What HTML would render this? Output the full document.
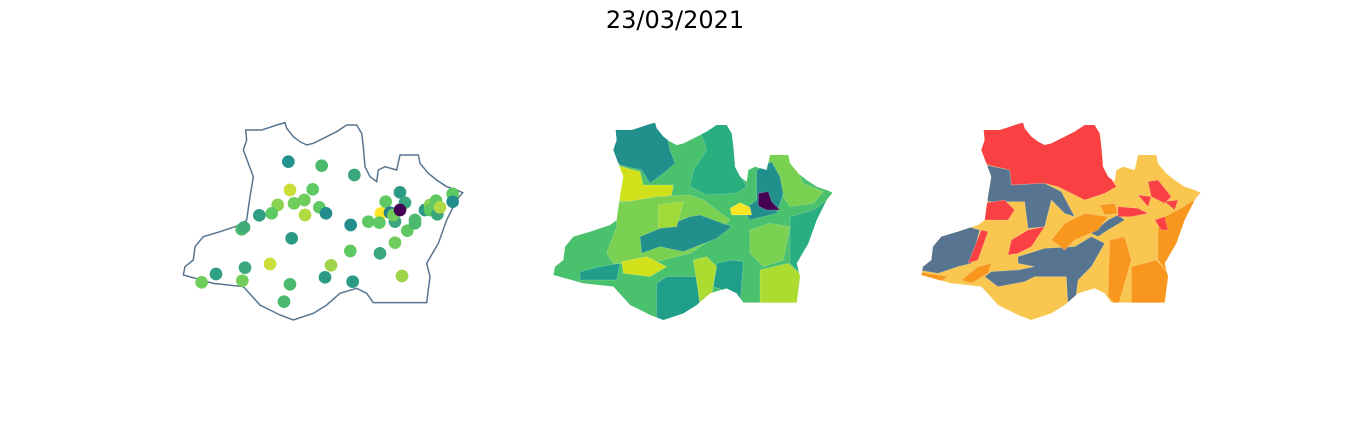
<!DOCTYPE html>
<html><head><meta charset="utf-8">
<style>
html,body{margin:0;padding:0;background:#fff;}
body{width:1350px;height:444px;overflow:hidden;}
svg{display:block;}
</style></head>
<body>
<svg id="fig" width="1350" height="444" viewBox="0 0 1350 444" xmlns="http://www.w3.org/2000/svg">
<text x="675" y="28" text-anchor="middle" font-family="DejaVu Sans, Liberation Sans, sans-serif" font-size="24" fill="#000">23/03/2021</text>
<defs>
<clipPath id="clipState"><polygon id="outlineShape" points="197,30 245,30 270,22 290,15 315,8 320,25 340,50 360,65 380,75 400,70 430,55 470,35 500,15 530,15 545,40 550,80 555,140 570,170 590,185 595,150 615,140 650,150 660,105 715,105 720,130 745,160 770,180 800,200 830,210 848,218 830,240 800,300 775,370 740,430 750,470 740,548 600,548 580,548 560,520 530,505 480,520 440,555 400,580 340,600 300,585 240,555 190,500 100,490 10,465 15,440 40,420 45,380 70,350 120,335 165,320 180,315 200,300 210,230 220,170 205,130 190,90 200,60"/></clipPath>
</defs>
<g id="p1" transform="translate(180,120) scale(0.33333)">
<use href="#outlineShape" fill="#fff" stroke="#577590" stroke-width="4.5"/>
<g id="dots"></g>
</g>
<g id="p2" transform="translate(550,120) scale(0.33333)">
<g clip-path="url(#clipState)" id="reg2"><use href="#outlineShape" fill="#4ac16d"/></g>
</g>
<g id="p3" transform="translate(918,120) scale(0.33333)">
<g clip-path="url(#clipState)" id="reg3"><use href="#outlineShape" fill="#f9c74f"/></g>
</g>
</svg>
<script>
// Point map data (map-local coordinates and values 0..1 on viridis)
const dotX = [325,425,523,330,398,342,373,375,293,275,238,418,438,512,185,192,335,511,600,645,682,705,660,617,675,603,565,598,645,630,640,735,750,768,750,772,780,818,818,270,195,108,65,187,330,312,435,453,518,666,705,660];
const dotY = [125,137,165,210,208,250,240,285,255,280,286,262,280,315,328,322,355,393,400,368,332,300,217,245,248,280,305,308,305,278,285,270,255,242,270,283,262,222,245,432,443,462,487,482,493,545,472,436,485,468,310,270];
const dotVal = [0.5,0.68,0.6,0.92,0.75,0.78,0.78,0.88,0.82,0.75,0.56,0.75,0.48,0.48,0.68,0.62,0.54,0.75,0.6,0.78,0.75,0.68,0.54,0.75,0.6,1.0,0.75,0.75,0.6,0.42,0.78,0.54,0.82,0.75,0.75,0.6,0.88,0.75,0.48,0.92,0.6,0.56,0.78,0.78,0.68,0.68,0.54,0.85,0.54,0.85,0.68,0.0];
const vir = [[68,1,84],[59,82,139],[33,145,140],[94,201,98],[253,231,37]];
function viridis(t){t=Math.max(0,Math.min(1,t));const s=t*4,i=Math.min(3,Math.floor(s)),f=s-i;
 const c=vir[i].map((v,k)=>Math.round(v+(vir[i+1][k]-v)*f));return `rgb(${c})`;}
const NS="http://www.w3.org/2000/svg";
const dg=document.getElementById('dots');
dotX.forEach((x,i)=>{const c=document.createElementNS(NS,'circle');
 c.setAttribute('cx',x);c.setAttribute('cy',dotY[i]);c.setAttribute('r',19);c.setAttribute('fill',viridis(dotVal[i]));
 
 
 dg.appendChild(c);});
{const i=dotVal.indexOf(0);if(i>=0){const c=dg.children[i];dg.appendChild(c);}}

const reg2 = [
 ["#21908d","180,0 340,0 360,90 375,130 340,160 300,190 275,150 210,135 180,100"],
 ["#29af7f","440,0 560,0 555,140 590,200 560,220 470,225 420,200 430,150 470,90"],
 ["#d0e11c","180,125 215,140 270,155 280,195 370,195 365,225 300,240 210,245 205,190"],
 ["#7ad151","200,250 320,230 420,225 460,240 540,300 480,360 420,400 300,430 190,430 170,400 200,320"],
 ["#21908d","270,350 330,325 420,290 450,285 545,320 500,355 400,395 330,380 275,400"],
 ["#a0da39","325,255 400,245 380,320 325,325"],
 ["#7ad151","650,100 720,100 760,190 820,215 790,250 720,260 680,200"],
 ["#21908d","620,150 665,125 690,170 700,220 680,280 600,300 580,270 620,240"],
 ["#fde725","540,265 570,248 600,262 605,285 545,285"],
 ["#440154","625,220 655,215 665,245 690,270 650,270 625,258"],
 ["#29af7f","720,290 790,270 860,220 800,350 760,470 720,430"],
 ["#addc30","630,450 715,430 760,470 760,570 630,570"],
 ["#1f9e89","500,430 545,420 580,425 570,560 520,510 490,500"],
 ["#1f9e89","320,490 350,470 440,470 450,560 400,600 320,600"],
 ["#addc30","430,420 470,410 500,440 480,550 450,550"],
 ["#d0e11c","215,425 290,410 350,440 300,470 220,460"],
 ["#1f9e89","90,455 150,440 210,430 200,480 90,480"],
 ["#7ad151","600,330 660,310 720,320 700,420 640,440 600,400"]
];
const reg3 = [
 ["#f94144","180,0 560,0 555,140 595,200 560,220 500,240 420,200 380,190 280,195 275,150 210,135 180,100"],
 ["#577590","180,130 275,150 280,195 380,190 430,215 470,290 440,280 400,240 380,320 330,325 320,245 260,245 210,245"],
 ["#577590","40,360 90,330 150,320 185,330 160,430 120,440 60,460 0,450 40,420"],
 ["#577590","300,410 380,385 470,380 520,350 560,370 520,440 480,480 470,560 450,560 445,470 350,470 320,485 240,500 200,470 220,455 300,450 350,440 300,430"],
 ["#577590","520,340 570,300 600,285 620,300 570,330 540,350"],
 ["#f94144","280,360 330,330 380,320 340,380 300,400 270,405"],
 ["#f94144","195,250 260,240 290,270 270,300 195,300"],
 ["#f94144","150,430 190,330 210,335 180,420"],
 ["#f8961e","400,360 440,310 500,280 570,290 540,330 470,360 440,390"],
 ["#f8961e","640,440 715,420 760,470 760,570 640,570"],
 ["#f8961e","720,300 780,270 860,220 800,300 760,470 720,420"],
 ["#f8961e","575,360 620,350 640,420 600,560 570,530"],
 ["#f8961e","0,455 90,470 60,490 0,470"],
 ["#f8961e","130,480 180,440 220,430 210,460 160,490"],
 ["#f8961e","545,255 590,250 600,280 560,285"],
 ["#f94144","690,185 720,180 760,230 740,250 700,230"],
 ["#f94144","660,225 700,230 690,260"],
 ["#f94144","600,260 660,265 690,280 640,290 600,290"],
 ["#f94144","710,300 740,290 750,330 730,330"],
 ["#f94144","740,245 780,240 770,270"]
];
function drawRegions(id,list){const g=document.getElementById(id);
 list.forEach(r=>{const p=document.createElementNS(NS,'polygon');
  p.setAttribute('points',r[1]);p.setAttribute('fill',r[0]);p.setAttribute('stroke','rgba(255,255,255,0.25)');p.setAttribute('stroke-width','2');
  
  
  g.appendChild(p);});}
drawRegions('reg2',reg2);
drawRegions('reg3',reg3);
</script>
</body></html>
